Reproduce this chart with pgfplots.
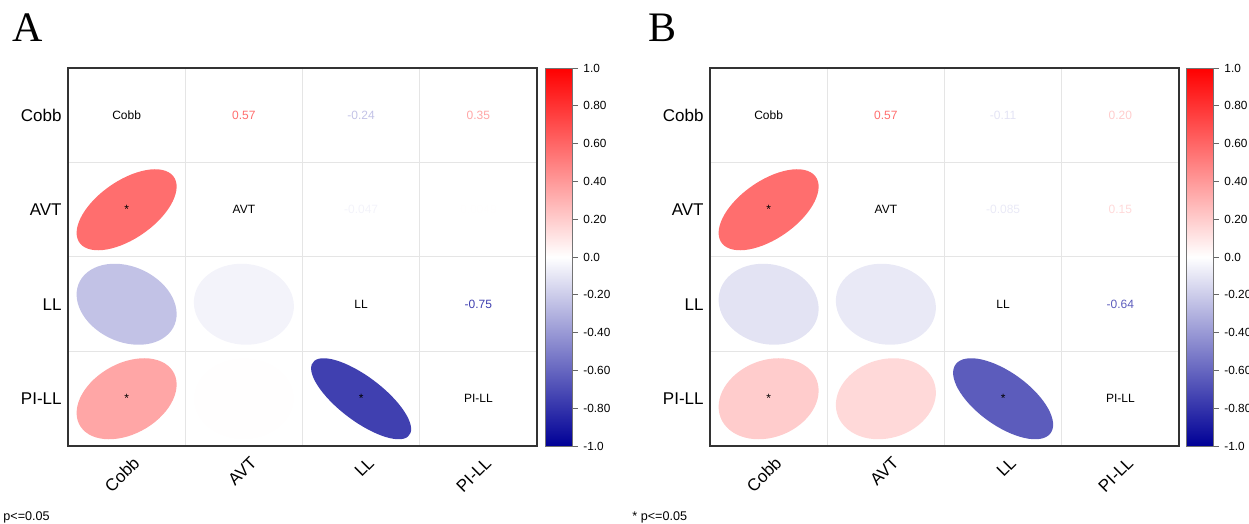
\documentclass[border=0pt]{standalone}
\usepackage{fontspec}
\setmainfont{Liberation Sans}
\newfontfamily\serifA{Liberation Serif}
\usepackage{pgfplots}
\pgfplotsset{compat=1.18}
\usepackage{pgfplotstable}

\definecolor{corrneg}{RGB}{0,0,150}
\pgfplotsset{
  colormap={corr}{rgb255=(0,0,150) rgb255=(255,255,255) rgb255=(255,0,0)},
}

% ellipse glyph (corrplot style), shape driven by the correlation value \corrr
\pgfdeclareplotmark{correll}{%
  \pgfmathsetmacro\corrua{sqrt(1+\corrr)}%
  \pgfmathsetmacro\corrub{sqrt(1-\corrr)}%
  \pgfpathellipse{\pgfpointorigin}%
    {\pgfpoint{\corrua*17.68pt}{\corrua*14.32pt}}%
    {\pgfpoint{\corrub*17.68pt}{-\corrub*14.32pt}}%
  \pgfusepathqfill}

% text coloured with the same colour scale as the ellipses
\newcommand\corrtextcol[2]{%
  \ifdim #1pt<0pt
    \pgfmathsetmacro\corrpc{-100*#1}\color{corrneg!\corrpc!white}%
  \else
    \pgfmathsetmacro\corrpc{100*#1}\color{red!\corrpc!white}%
  \fi #2}

\pgfplotsset{
  corrax/.style={
    anchor=south west, scale only axis, width=234.5pt, height=189pt,
    xmin=0.5, xmax=4.5, ymin=0.5, ymax=4.5,
    xtick={1.085,2.085,3.085,4.085}, xticklabels={Cobb,AVT,LL,PI-LL},
    ytick={1,2,3,4}, yticklabels={PI-LL,LL,AVT,Cobb},
    minor xtick={1.5,2.5,3.5}, minor ytick={1.5,2.5,3.5},
    grid=minor, minor grid style={color=black!10, line width=0.5pt},
    major tick length=0pt, minor tick length=0pt,
    tick label style={font=\fontsize{8.5}{10}\selectfont},
    xticklabel style={rotate=45, anchor=east, inner sep=0pt},
    xticklabel shift=7pt,
    yticklabel style={inner sep=0pt, xshift=-3pt},
    axis line style={black!80, line width=0.9pt},
    colormap name=corr, point meta min=-1, point meta max=1,
    colorbar,
    colorbar style={
      at={(parent axis.north east)}, anchor=north west, xshift=#1,
      scale only axis, width=13.5pt, height=189pt,
      ytick={-1,-0.8,-0.6,-0.4,-0.2,0,0.2,0.4,0.6,0.8,1},
      yticklabels={-1.0,-0.80,-0.60,-0.40,-0.20,0.0,0.20,0.40,0.60,0.80,1.0},
      ytick pos=right, yticklabel pos=right, tick align=outside,
      major tick length=3pt, tick style={black!60, line width=0.4pt},
      yticklabel style={font=\fontsize{5.9}{6.5}\selectfont, inner sep=0pt, xshift=2.5pt},
      axis line style={black!55, line width=0.5pt},
    },
  },
  ellplot/.style={scatter, only marks, mark=correll, point meta=explicit,
    visualization depends on={\thisrow{r} \as \corrr},
    scatter/use mapped color={draw=none, fill=mapped color}},
  valplot/.style={only marks, mark=none,
    visualization depends on={value \thisrow{lab} \as \corrlab},
    visualization depends on={value \thisrow{r} \as \corrrv},
    nodes near coords={\corrtextcol{\corrrv}{\corrlab}}, nodes near coords align=center,
    every node near coord/.append style={font=\fontsize{6}{7}\selectfont}},
  diagplot/.style={only marks, mark=none, point meta=explicit symbolic,
    nodes near coords, nodes near coords align=center,
    every node near coord/.append style={font=\fontsize{6}{7}\selectfont, text=black}},
  starplot/.style={only marks, mark=none, nodes near coords={*}, nodes near coords align=center,
    every node near coord/.append style={font=\fontsize{6}{7}\selectfont, text=black}},
}

\begin{document}
\begin{tikzpicture}
\path[use as bounding box] (0,0) rectangle (624.5pt,262pt);

% ---------------- Panel A ----------------
\begin{axis}[corrax=-4.5pt, at={(34pt,39pt)}]
\addplot[ellplot] table[x=x, y=y, meta=r] {
x y r
1 3 0.57
1 2 -0.24
2 2 -0.047
1 1 0.35
2 1 0.0049
3 1 -0.75
};
\addplot[valplot] table[x=x, y=y] {
x y r lab
2 4 0.57 0.57
3 4 -0.24 -0.24
4 4 0.35 0.35
3 3 -0.047 -0.047
4 3 0.0049 0.0049
4 2 -0.75 -0.75
};
\addplot[diagplot] table[x=x, y=y, meta=lab] {
x y lab
1 4 Cobb
2 3 AVT
3 2 LL
4 1 PI-LL
};
\addplot[starplot] table[x=x, y=y] {
x y
1 3
1 1
3 1
};
\end{axis}

% ---------------- Panel B ----------------
\begin{axis}[corrax=-5pt, at={(355pt,39pt)}]
\addplot[ellplot] table[x=x, y=y, meta=r] {
x y r
1 3 0.57
1 2 -0.11
2 2 -0.085
1 1 0.20
2 1 0.15
3 1 -0.64
};
\addplot[valplot] table[x=x, y=y] {
x y r lab
2 4 0.57 0.57
3 4 -0.11 -0.11
4 4 0.20 0.20
3 3 -0.085 -0.085
4 3 0.15 0.15
4 2 -0.64 -0.64
};
\addplot[diagplot] table[x=x, y=y, meta=lab] {
x y lab
1 4 Cobb
2 3 AVT
3 2 LL
4 1 PI-LL
};
\addplot[starplot] table[x=x, y=y] {
x y
1 3
1 1
3 1
};
\end{axis}

\node[anchor=base west, inner sep=0pt, font=\serifA\fontsize{21}{24}\selectfont] at (6pt,241pt) {A};
\node[anchor=base west, inner sep=0pt, font=\serifA\fontsize{21}{24}\selectfont] at (324pt,241pt) {B};
\node[anchor=west, inner sep=0pt, font=\fontsize{6.3}{7}\selectfont] at (1.5pt,3.5pt) {p<=0.05};
\node[anchor=west, inner sep=0pt, font=\fontsize{6.3}{7}\selectfont] at (316pt,3.5pt) {* p<=0.05};
\end{tikzpicture}
\end{document}
